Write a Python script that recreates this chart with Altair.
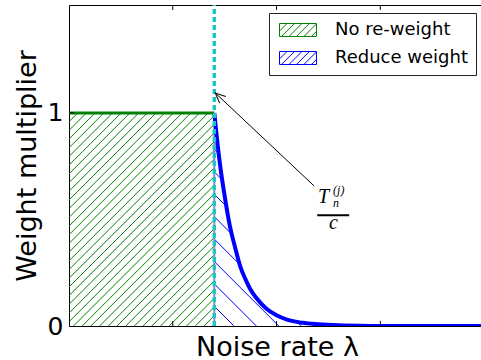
import altair as alt
import numpy as np
import pandas as pd

# ---------------- values ----------------
threshold = 1.4          # position of T_n^(j)/c on the noise-rate axis
flat_level = 1.0         # weight multiplier before the threshold
curve_x = [1.40, 1.43, 1.46, 1.50, 1.55, 1.60, 1.65, 1.70, 1.75, 1.80,
           1.90, 2.00, 2.10, 2.25, 2.40, 2.60, 2.80, 3.20, 3.97]
curve_y = [1.00, 0.86, 0.74, 0.61, 0.47, 0.37, 0.28, 0.22, 0.17, 0.135,
           0.082, 0.050, 0.030, 0.015, 0.008, 0.003, 0.001, 0.0, 0.0]
series_names = ["No re-weight", "Reduce weight"]
series_colors = ["#008000", "#0000ff"]
y_tick_values = [0, 1]
x_minor_ticks = [1, 2, 3]
y_inner_ticks = [1]
arrow_tip = [1.41, 1.094]
arrow_tail = [2.363, 0.657]
x_max = 3.97
y_max = 1.507

# ---------------- layout / style ----------------
W, H = 412, 321
PX_X = W / x_max
PX_Y = H / y_max
FONT = "DejaVu Sans"
GREEN_SPACING = 8.7      # hatch spacing in px
BLUE_SPACING = 22.4
BLUE_PHASE = 19.7

# ---------- hatch lines (decoration computed in pixel space) ----------
rows = []
seg = 0
Tpx = threshold * PX_X
Ypx = flat_level * PX_Y
# green "/" hatch inside [0,T]x[0,1]
c = -Ypx
while c < Tpx:
    x0 = max(0.0, c)
    x1 = min(Tpx, Ypx + c)
    if x1 > x0:
        for X in (x0, x1):
            rows.append({"x": X / PX_X, "y": (X - c) / PX_Y, "seg": seg, "series": series_names[0]})
        seg += 1
    c += GREEN_SPACING

# blue "\" hatch under the curve, right of threshold
cx = np.array(curve_x) * PX_X
cy = np.array(curve_y) * PX_Y
Xs = np.arange(Tpx, W + 0.01, 0.25)
curve_at = np.interp(Xs, cx, cy)
yint = BLUE_PHASE
while yint < Ypx + 40:
    Yl = yint - (Xs - Tpx)
    inside = (Yl >= 0) & (Yl <= curve_at + 1.5)
    i = 0
    n = len(Xs)
    while i < n:
        if inside[i]:
            j = i
            while j + 1 < n and inside[j + 1]:
                j += 1
            if j > i:
                for k in (i, j):
                    rows.append({"x": Xs[k] / PX_X, "y": Yl[k] / PX_Y, "seg": seg, "series": series_names[1]})
                seg += 1
            i = j + 1
        else:
            i += 1
    yint += BLUE_SPACING
hatch_df = pd.DataFrame(rows)

# legend swatch: rectangle with "/" hatch, custom SVG path (unit = 6.5 px)
xr0, xr1 = -1.0, 4.692
parts = [f"M{xr0},-1H{xr1}V1H{xr0}Z"]
x0 = xr0 - 2
while x0 < xr1:
    t0 = max(0.0, xr0 - x0)
    t1 = min(2.0, xr1 - x0)
    if t1 > t0:
        parts.append(f"M{x0 + t0:.3f},{1 - t0:.3f}L{x0 + t1:.3f},{1 - t1:.3f}")
    x0 += 1.15
swatch_path = "".join(parts)

xscale = alt.Scale(domain=[0, x_max], nice=False, zero=False)
yscale = alt.Scale(domain=[0, y_max], nice=False, zero=False)

hatch = alt.Chart(hatch_df).mark_line(strokeWidth=1, clip=True).encode(
    x=alt.X("x:Q", scale=xscale, axis=alt.Axis(
        orient="bottom", title="Noise rate λ", labels=False, ticks=False, grid=False,
        domainColor="black", domainWidth=1, titleFont=FONT, titleFontSize=27,
        titleFontWeight="normal", titleColor="black", titleX=208, titleY=29,
        titleBaseline="alphabetic", titleAlign="center")),
    y=alt.Y("y:Q", scale=yscale, axis=alt.Axis(
        orient="left", values=y_tick_values, title="Weight multiplier", ticks=False, tickSize=0,
        grid=False, domainColor="black", domainWidth=1, labelFont=FONT,
        labelFontSize=25, labelColor="black", labelPadding=6,
        titleFont=FONT, titleFontSize=27, titleFontWeight="normal", titleColor="black",
        titleX=-34, titleY=H / 2, titleAngle=-90, titleBaseline="alphabetic",
        titleAlign="center")),
    detail="seg:N",
    color=alt.Color("series:N", scale=alt.Scale(domain=series_names, range=series_colors),
                    legend=alt.Legend(title=None, orient="none", legendX=200, legendY=8,
                                      symbolType=swatch_path, symbolSize=169,
                                      symbolStrokeWidth=1, symbolFillColor="transparent",
                                      labelFont=FONT, labelFontSize=18, labelColor="black",
                                      labelOffset=40, padding=8, rowPadding=10,
                                      strokeColor="#222222", fillColor="white")),
)

flat_df = pd.DataFrame({"x": [0.0], "x2": [threshold], "y": [flat_level]})
flat = alt.Chart(flat_df).mark_rule(color=series_colors[0], strokeWidth=3).encode(
    x=alt.X("x:Q", scale=xscale, axis=None), x2="x2:Q",
    y=alt.Y("y:Q", scale=yscale, axis=None))

edge_df = pd.DataFrame({"x": [threshold], "y": [0.0], "y2": [flat_level]})
edge = alt.Chart(edge_df).mark_rule(color="#8a8ad0", strokeWidth=2).encode(
    x=alt.X("x:Q", scale=xscale, axis=None),
    y=alt.Y("y:Q", scale=yscale, axis=None), y2="y2:Q")

curve_df = pd.DataFrame({"x": curve_x, "y": curve_y})
curve = alt.Chart(curve_df).mark_line(color=series_colors[1], strokeWidth=4,
                                      interpolate="monotone", clip=True).encode(
    x=alt.X("x:Q", scale=xscale, axis=None),
    y=alt.Y("y:Q", scale=yscale, axis=None))

dash_df = pd.DataFrame({"x": [threshold], "y": [0.0], "y2": [y_max]})
dash = alt.Chart(dash_df).mark_rule(color="#1fc4c4", strokeWidth=3.5, strokeDash=[5, 3]).encode(
    x=alt.X("x:Q", scale=xscale, axis=None),
    y=alt.Y("y:Q", scale=yscale, axis=None), y2="y2:Q")

arrow_df = pd.DataFrame({"x": [arrow_tip[0]], "y": [arrow_tip[1]],
                         "x2": [arrow_tail[0]], "y2": [arrow_tail[1]]})
arrow = alt.Chart(arrow_df).mark_rule(color="black", strokeWidth=1).encode(
    x=alt.X("x:Q", scale=xscale, axis=None), x2="x2:Q",
    y=alt.Y("y:Q", scale=yscale, axis=None), y2="y2:Q")
head = alt.Chart(arrow_df).mark_point(shape="M1,-0.45L0,0L1,0.45", size=400, filled=False,
                                      stroke="black", strokeWidth=1, angle=43, opacity=1).encode(
    x=alt.X("x:Q", scale=xscale, axis=None),
    y=alt.Y("y:Q", scale=yscale, axis=None))

# math label T_n^(j) / c
lab_df = pd.DataFrame({
    "x": [2.40, 2.545, 2.545, 2.547],
    "y": [0.576, 0.620, 0.560, 0.455],
    "t": ["T", "(j)", "n", "c"],
    "s": [20, 12, 12, 20],
    "a": ["left", "left", "left", "center"],
})
def mtext(i):
    r = lab_df.iloc[[i]]
    return alt.Chart(r).mark_text(font="Liberation Serif", fontStyle="italic",
                                  fontSize=int(r["s"].iloc[0]), align=r["a"].iloc[0],
                                  baseline="alphabetic", color="black").encode(
        x=alt.X("x:Q", scale=xscale, axis=None),
        y=alt.Y("y:Q", scale=yscale, axis=None), text="t:N")
bar_df = pd.DataFrame({"x": [2.392], "x2": [2.70], "y": [0.52]})
fbar = alt.Chart(bar_df).mark_rule(color="black", strokeWidth=2).encode(
    x=alt.X("x:Q", scale=xscale, axis=None), x2="x2:Q",
    y=alt.Y("y:Q", scale=yscale, axis=None))

# inward ticks
xt_df = pd.DataFrame({"x": x_minor_ticks})
xt_bottom = alt.Chart(xt_df).mark_rule(color="black", strokeWidth=1).encode(
    x=alt.X("x:Q", scale=xscale, axis=None), y=alt.value(H), y2=alt.value(H - 5))
xt_top = alt.Chart(xt_df).mark_rule(color="black", strokeWidth=1).encode(
    x=alt.X("x:Q", scale=xscale, axis=alt.Axis(orient="top", labels=False, ticks=False,
                                               grid=False, title=None, domainColor="black",
                                               domainWidth=1)),
    y=alt.value(0), y2=alt.value(5))
yt_df = pd.DataFrame({"y": y_inner_ticks})
yt_left = alt.Chart(yt_df).mark_rule(color="black", strokeWidth=1).encode(
    y=alt.Y("y:Q", scale=yscale, axis=None), x=alt.value(0), x2=alt.value(5))

chart = alt.layer(
    hatch, xt_top, edge, flat, curve, dash, arrow, head,
    mtext(0), mtext(1), mtext(2), mtext(3), fbar, xt_bottom, yt_left
).resolve_axis(x="independent", y="independent").properties(
    width=W, height=H,
    autosize=alt.AutoSizeParams(type="none"),
    padding={"left": 69, "top": 5, "right": 0, "bottom": 34},
).configure_view(stroke=None).configure(background="white")

chart.save("out.html", embed_options={"renderer": "svg", "actions": False})
